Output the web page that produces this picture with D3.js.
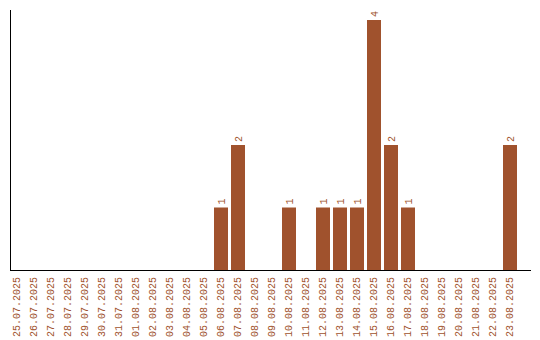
<!DOCTYPE html>
<html>
<head>
<meta charset="utf-8">
<script src="https://cdn.jsdelivr.net/npm/d3@7"></script>
<style>
html,body{margin:0;padding:0;background:#fff;}
svg{display:block;}
text{font-family:"Liberation Mono","DejaVu Sans Mono",monospace;}
</style>
</head>
<body>
<svg id="chart" width="540" height="340"></svg>
<script>
const dates = ["25.07.2025","26.07.2025","27.07.2025","28.07.2025","29.07.2025","30.07.2025","31.07.2025",
"01.08.2025","02.08.2025","03.08.2025","04.08.2025","05.08.2025","06.08.2025","07.08.2025","08.08.2025",
"09.08.2025","10.08.2025","11.08.2025","12.08.2025","13.08.2025","14.08.2025","15.08.2025","16.08.2025",
"17.08.2025","18.08.2025","19.08.2025","20.08.2025","21.08.2025","22.08.2025","23.08.2025"];
const counts = [0,0,0,0,0,0,0,0,0,0,0,0,1,2,0,0,1,0,1,1,1,4,2,1,0,0,0,0,0,2];

const color = "#a0522d";
const svg = d3.select("#chart");
const mLeft = 10, mRight = 531, mTop = 10, mBottom = 270;

const x = d3.scaleBand().domain(dates).range([mLeft, 517]).paddingInner(3/17).paddingOuter(0);
const y = d3.scaleLinear().domain([0, d3.max(counts) * 1.04]).range([mBottom, mTop]);

const data = dates.map((d, i) => ({date: d, value: counts[i]}));

svg.selectAll("rect.bar").data(data.filter(d => d.value > 0)).enter().append("rect")
  .attr("class", "bar")
  .attr("x", d => x(d.date))
  .attr("y", d => y(d.value))
  .attr("width", x.bandwidth())
  .attr("height", d => y(0) - y(d.value))
  .attr("fill", color);

svg.selectAll("text.val").data(data.filter(d => d.value > 0)).enter().append("text")
  .attr("class", "val")
  .attr("transform", d => `translate(${x(d.date) + x.bandwidth()/2},${y(d.value) - 3}) rotate(-90)`)
  .attr("dy", "0.35em")
  .attr("text-anchor", "start")
  .attr("font-size", 10)
  .attr("fill", color)
  .text(d => d.value);

svg.selectAll("text.tick").data(dates).enter().append("text")
  .attr("class", "tick")
  .attr("transform", d => `translate(${x(d) + x.bandwidth()/2 - 1},${mBottom + 7}) rotate(-90)`)
  .attr("dy", "0.35em")
  .attr("text-anchor", "end")
  .attr("font-size", 10)
  .attr("fill", color)
  .text(d => d);

svg.append("line").attr("x1", mLeft + 0.5).attr("x2", mLeft + 0.5).attr("y1", mTop).attr("y2", mBottom + 0.5)
  .attr("stroke", "#000").attr("stroke-width", 1);
svg.append("line").attr("x1", mLeft).attr("x2", mRight).attr("y1", mBottom + 0.5).attr("y2", mBottom + 0.5)
  .attr("stroke", "#000").attr("stroke-width", 1);
</script>
</body>
</html>
